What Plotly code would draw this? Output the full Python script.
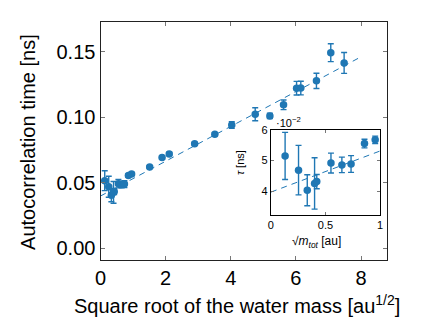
import plotly.graph_objects as go

# ---- data ----
x_small = [0.13, 0.253, 0.333, 0.40, 0.42, 0.55, 0.65, 0.734, 0.857, 0.955]
y_small = [0.0515, 0.0469, 0.0404, 0.0426, 0.0432, 0.0492, 0.0486, 0.0489, 0.0555, 0.0567]
err_small = [0.0076, 0.0080, 0.0050, 0.0083, 0.0023, 0.0032, 0.0025, 0.0027, 0.0014, 0.0012]

x_large = [1.51, 1.89, 2.11, 2.89, 3.51, 4.03, 4.75, 5.20, 5.62, 6.02, 6.15, 6.63, 7.07, 7.48]
y_large = [0.0619, 0.0693, 0.0720, 0.0798, 0.0870, 0.0940, 0.1023, 0.1010, 0.1095, 0.1222,
           0.1223, 0.1278, 0.1493, 0.1415]
err_large = [0.0010, 0.0012, 0.0012, 0.0010, 0.0012, 0.0025, 0.0050, 0.0020, 0.0037, 0.0052,
             0.0052, 0.0058, 0.0068, 0.0080]

fit_slope = 0.0133
fit_intercept = 0.0398
fit_x_main = [0, 8]
fit_x_inset = [0, 1]

inset_scale = 100  # values shown in units of 1e-2

x_ticks_main = [0, 2, 4, 6, 8]
y_ticks_main = [0.00, 0.05, 0.10, 0.15]
x_ticks_inset = [0, 0.5, 1]
x_ticklabels_inset = ["0", "0.5", "1"]
y_ticks_inset = [4, 5, 6]

# ---- figure ----
C = "#1f77b4"
FONT = "Liberation Sans"

x_all = x_small + x_large
y_all = y_small + y_large
e_all = err_small + err_large

fig = go.Figure()

fig.add_trace(go.Scatter(
    x=[fit_x_main[0], fit_x_main[1]],
    y=[fit_intercept + fit_slope * v for v in fit_x_main],
    mode="lines", line=dict(color=C, width=1, dash="6px,5px"),
    showlegend=False, xaxis="x", yaxis="y"))

fig.add_trace(go.Scatter(
    x=x_all, y=y_all, mode="markers",
    marker=dict(color=C, size=7.5),
    error_y=dict(type="data", array=e_all, color=C, thickness=1.4, width=3),
    showlegend=False, xaxis="x", yaxis="y"))

fig.add_trace(go.Scatter(
    x=fit_x_inset,
    y=[(fit_intercept + fit_slope * v) * inset_scale for v in fit_x_inset],
    mode="lines", line=dict(color=C, width=1, dash="6px,5px"),
    showlegend=False, xaxis="x2", yaxis="y2"))

fig.add_trace(go.Scatter(
    x=x_small, y=[v * inset_scale for v in y_small], mode="markers",
    marker=dict(color=C, size=7.5),
    error_y=dict(type="data", array=[v * inset_scale for v in err_small],
                 color=C, thickness=1.4, width=3),
    showlegend=False, xaxis="x2", yaxis="y2"))

W, H = 435, 321
def px(x): return x / W
def py(y): return 1 - y / H

common = dict(showgrid=False, zeroline=False, showline=True, linecolor="#222",
              linewidth=1.2, mirror="allticks", ticks="inside", tickcolor="#777",
              tickwidth=1)

fig.update_layout(
    width=W, height=H, margin=dict(l=0, r=0, t=0, b=0),
    paper_bgcolor="white", plot_bgcolor="white",
    font=dict(family=FONT, color="black"),
    xaxis=dict(domain=[px(96.5), px(389.5)], range=[0, 8.81],
               tickvals=x_ticks_main, ticklen=4,
               tickfont=dict(size=20), anchor="y", **common),
    yaxis=dict(domain=[py(259), py(16)], range=[-0.0092, 0.173],
               tickvals=y_ticks_main, tickformat=".2f", ticklen=4,
               tickfont=dict(size=20), anchor="x", **common),
    xaxis2=dict(domain=[px(270.5), px(382)], range=[0, 1],
                tickvals=x_ticks_inset, ticktext=x_ticklabels_inset, ticklen=3,
                tickfont=dict(size=11), anchor="y2",
                **{**common, "linecolor": "black", "linewidth": 1.3}),
    yaxis2=dict(domain=[py(213), py(126)], range=[3.24, 6.0],
                tickvals=y_ticks_inset, ticklen=3,
                tickfont=dict(size=11), anchor="x2",
                **{**common, "linecolor": "black", "linewidth": 1.3}),
)

fig.add_annotation(text="Square root of the water mass [au<sup>1/2</sup>]",
                   x=px(236), y=py(304), xref="paper", yref="paper",
                   showarrow=False, font=dict(size=20), xanchor="center", yanchor="middle")
fig.add_annotation(text="Autocorrelation time [ns]",
                   x=px(23), y=py(139), xref="paper", yref="paper", textangle=-90,
                   showarrow=False, font=dict(size=20), xanchor="center", yanchor="middle")
fig.add_annotation(text="√<i>m<sub>tot</sub></i> [au]",
                   x=px(317), y=py(241), xref="paper", yref="paper",
                   showarrow=False, font=dict(size=12), xanchor="center", yanchor="middle")
fig.add_annotation(text="<i>τ</i> [ns]",
                   x=px(239), y=py(160), xref="paper", yref="paper", textangle=-90,
                   showarrow=False, font=dict(size=11), xanchor="center", yanchor="middle")
fig.add_annotation(text="·10<sup>−2</sup>",
                   x=px(274), y=py(118), xref="paper", yref="paper",
                   showarrow=False, font=dict(size=11), xanchor="left", yanchor="middle")

fig.write_html("out.html")
